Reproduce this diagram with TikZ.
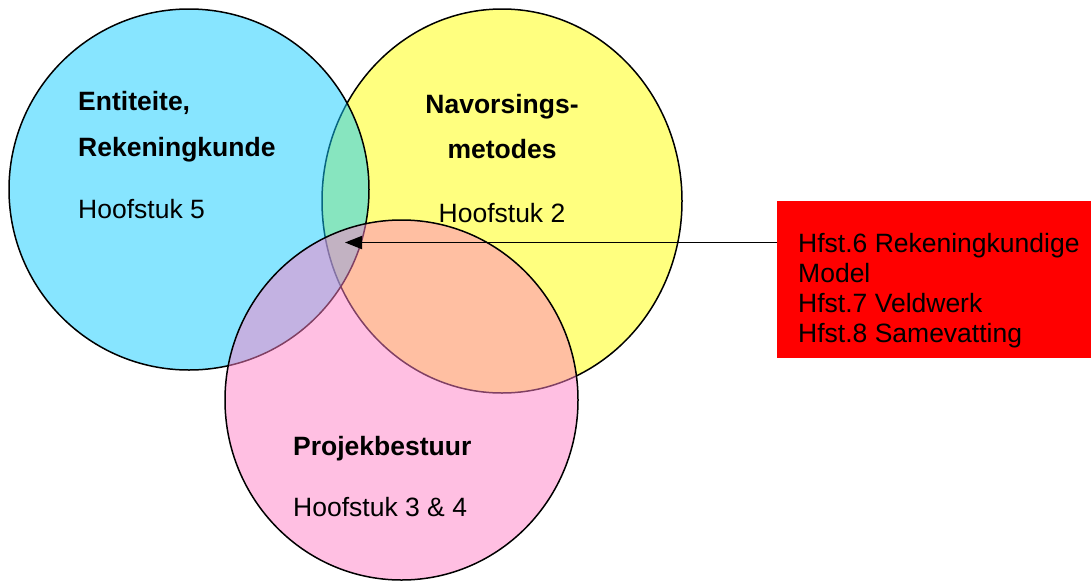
\documentclass[tikz,border=0pt]{standalone}
\usepackage{fontspec}
\setmainfont{Liberation Sans}
\usetikzlibrary{arrows.meta}
\definecolor{cyanbase}{RGB}{15,203,255}
\definecolor{yellowbase}{RGB}{255,255,0}
\definecolor{pinkbase}{RGB}{255,128,198}
\definecolor{boxred}{RGB}{255,0,0}
\tikzset{
  setcircle/.style={draw=black, line width=1.5pt, fill opacity=0.5, draw opacity=1},
  lbl/.style={inner sep=0pt, font=\fontsize{26.5}{31}\selectfont, text=black},
  blbl/.style={lbl, font=\fontsize{26.5}{31}\selectfont\bfseries},
  redbox/.style={fill=boxred, draw=none, inner sep=0pt, minimum width=314pt, minimum height=157pt, anchor=north west},
  pointer/.style={line width=1.8pt, -{Triangle[length=17pt,width=13pt]}}
}
\begin{document}
\begin{tikzpicture}[x=1pt,y=-1pt]
\useasboundingbox (0,0) rectangle (1091,581);
% sets
\path[setcircle, fill=yellowbase] (502,201) ellipse [x radius=180pt, y radius=192pt];
\path[setcircle, fill=cyanbase] (189,189.5) ellipse [x radius=180pt, y radius=180.5pt];
\path[setcircle, fill=pinkbase] (401.5,400) ellipse [x radius=176.5pt, y radius=180pt];
% labels
\node[blbl, anchor=base west] (ent) at (78,110) {Entiteite,};
\node[blbl, anchor=base west] (rek) at (78,156) {Rekeningkunde};
\node[lbl, anchor=base west] (h5) at (78,218) {Hoofstuk 5};
\node[blbl, anchor=base] (nav) at (502,113) {Navorsings-};
\node[blbl, anchor=base] (met) at (502,158) {metodes};
\node[lbl, anchor=base] (h2) at (502,222) {Hoofstuk 2};
\node[blbl, anchor=base west] (proj) at (293,455) {Projekbestuur};
\node[lbl, anchor=base west] (h34) at (293,516) {Hoofstuk 3 \& 4};
% red box
\node[redbox] (box) at (777,201) {};
\node[lbl, anchor=base west] (b1) at (798,252) {Hfst.6 Rekeningkundige};
\node[lbl, anchor=base west] (b2) at (798,282) {Model};
\node[lbl, anchor=base west] (b3) at (798,312) {Hfst.7 Veldwerk};
\node[lbl, anchor=base west] (b4) at (798,342) {Hfst.8 Samevatting};
% arrow
\coordinate (tip) at (345,242.5);
\draw[pointer] (box.west |- tip) -- (tip);
\end{tikzpicture}
\end{document}
